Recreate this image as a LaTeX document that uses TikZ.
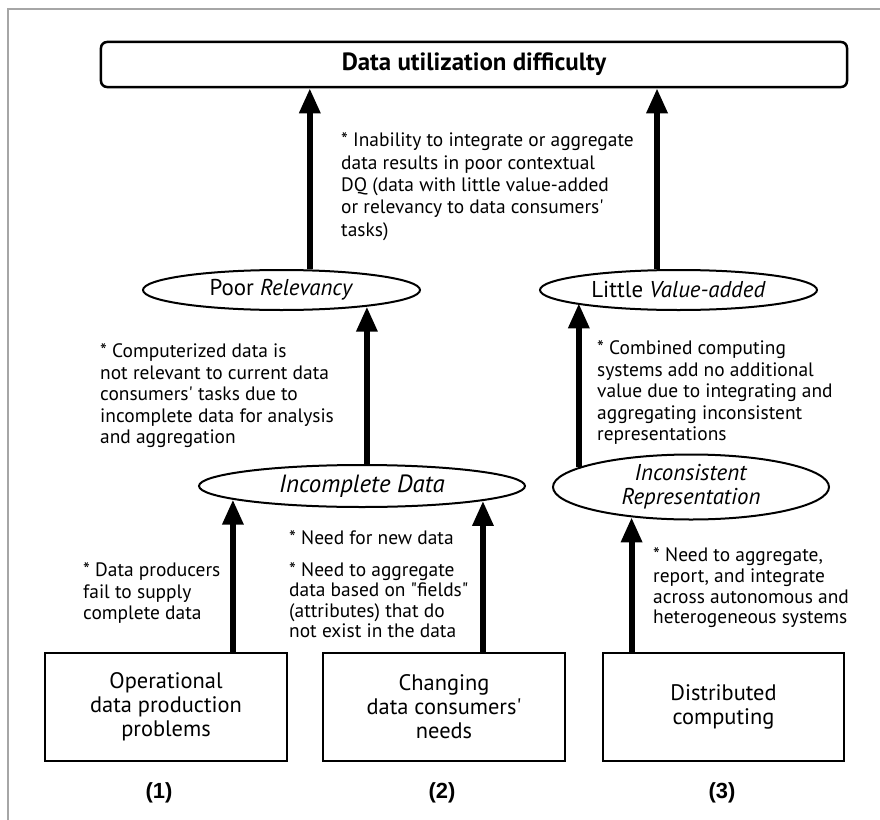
\documentclass[tikz,border=0pt]{standalone}
\usepackage{fontspec}
\setmainfont{PT Sans}[Ligatures=TeXOff]
\newfontfamily\labfont{Liberation Sans}
\usetikzlibrary{shapes.geometric,arrows.meta}
\begin{document}
\begin{tikzpicture}[x=1bp,y=-1bp,
  arr/.style={line width=6bp,-{Triangle[length=25bp,width=20bp]}},
  ell/.style={draw,ellipse,line width=2bp,inner sep=0pt,align=center,font=\fontsize{23}{24}\selectfont},
  srcbox/.style={draw,rectangle,line width=2.5bp,minimum width=242bp,minimum height=108bp,align=center,font=\fontsize{22.5}{24}\selectfont},
  note/.style={anchor=north west,align=left,inner sep=0pt},
  numlab/.style={font=\labfont\fontsize{22}{24}\bfseries\selectfont,inner sep=0pt}]
\useasboundingbox (0,0) rectangle (880,820);
\draw[gray!70,line width=1.2bp] (8,820) -- (8,9) -- (880,9);

\node[draw,rounded corners=6bp,line width=2.5bp,minimum width=746bp,minimum height=45bp,font=\fontsize{25}{26}\bfseries\selectfont] (top) at (474,64.5) {Data utilization difficulty};

\node[ell,minimum width=277bp,minimum height=40bp] (pr) at (281.5,290) {Poor \textit{Relevancy}};
\node[ell,minimum width=277bp,minimum height=40bp] (lv) at (678.5,290) {Little \textit{Value-added}};
\node[ell,minimum width=326bp,minimum height=42bp,font=\fontsize{25}{26}\selectfont] (id) at (362,486) {\textit{Incomplete Data}};
\node[ell,minimum width=276bp,minimum height=65bp] (ir) at (691,487) {\textit{Inconsistent}\\\textit{Representation}};

\node[srcbox] (b1) at (166,707) {Operational\\data production\\problems};
\node[srcbox] (b2) at (444,707) {Changing\\data consumers'\\needs};
\node[srcbox,minimum width=241bp] (b3) at (723.5,707) {Distributed\\computing};

\node[numlab] (n1) at (159,793) {(1)};
\node[numlab] (n2) at (442,793) {(2)};
\node[numlab] (n3) at (722,793) {(3)};

\draw[arr] (pr.36.5) -- (pr.36.5 |- top.south);
\draw[arr] (lv.136) -- (lv.136 |- top.south);
\draw[arr] (pr.-11.4 |- id.north) -- (pr.-11.4);
\draw[arr] (ir.170.4) -- (ir.170.4 |- lv.187.95);
\draw[arr] (b1.north -| id.186.75) -- (id.186.75);
\draw[arr] (b2.north -| id.353.25) -- (id.353.25);
\draw[arr] (b3.north -| ir.207.9) -- (ir.207.9);

\node[note,font=\fontsize{19.5}{22.5}\selectfont] (t1) at (341,132.5) {* Inability to integrate or aggregate\\data results in poor contextual\\DQ (data with little value-added\\or relevancy to data consumers'\\tasks)};
\node[note,font=\fontsize{19.5}{21.6}\selectfont] (t2) at (100,343.5) {* Computerized data is\\not relevant to current data\\consumers' tasks due to\\incomplete data for analysis\\and aggregation};
\node[note,font=\fontsize{19.5}{21.6}\selectfont] (t3) at (597,340.5) {* Combined computing\\systems add no additional\\value due to integrating and\\aggregating inconsistent\\representations};
\node[note,font=\fontsize{19.5}{21.5}\selectfont] (t4) at (83,562.5) {* Data producers\\fail to supply\\complete data};
\node[note,font=\fontsize{19.5}{21}\selectfont] (t5) at (289,530.5) {* Need for new data};
\node[note,font=\fontsize{19.5}{20.3}\selectfont] (t6) at (289,562.5) {* Need to aggregate\\data based on "fields"\\(attributes) that do\\not exist in the data};
\node[note,font=\fontsize{19.5}{20.8}\selectfont] (t7) at (653,547.5) {* Need to aggregate,\\report, and integrate\\across autonomous and\\heterogeneous systems};
\end{tikzpicture}
\end{document}
